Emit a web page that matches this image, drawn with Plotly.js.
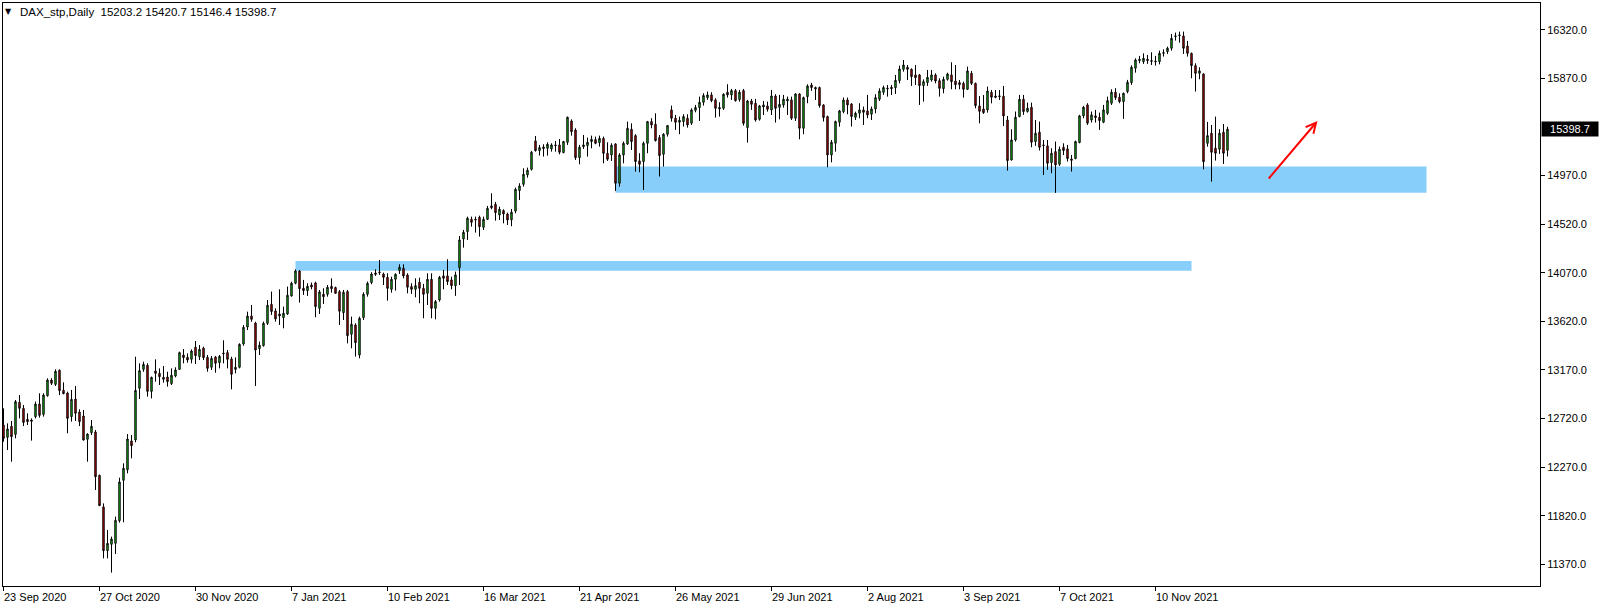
<!DOCTYPE html>
<html>
<head>
<meta charset="utf-8">
<script src="https://cdn.plot.ly/plotly-3.0.1.min.js"></script>
<style>
  html, body { margin: 0; padding: 0; background: #ffffff; }
  #chart { width: 1604px; height: 610px; }
</style>
</head>
<body>
<div id="chart"></div>
<script>
// ---------- data (DAX_stp, Daily) ----------
const firstDay = '2020-09-23';
const closedDays = ['2020-12-24','2020-12-25','2020-12-31','2021-01-01','2021-04-02','2021-04-05','2021-05-24'];

const open = [
12660,12545,12647,12573,12870,12814,12712,12706,12737,12854,12758,12931,13076,13036,13166,12981,12956,12737,12900,12780,
12743,12527,12589,12595,12194,11901,11496,11555,11564,11774,12148,12246,12512,12521,13000,13175,13212,12971,13160,13138,
13101,13104,13043,13113,13175,13308,13286,13268,13379,13292,13372,13286,13194,13289,13237,13326,13330,13271,13175,13194,
13410,13567,13669,13604,13367,13395,13601,13777,13716,13688,13654,13688,13855,13972,14086,13926,13904,13956,13975,13740,
13870,13870,13944,13932,13895,13700,13895,13500,13586,13308,13654,13870,13978,14067,14077,14058,14027,13916,14009,14089,
14111,14049,13941,13916,13981,13925,13879,14009,13740,13817,14040,14040,14003,13950,14117,14382,14450,14564,14564,14583,
14490,14564,14688,14703,14604,14645,14614,14560,14640,14830,14888,14975,15027,15290,15200,15234,15222,15216,15253,15253,
15182,15277,15475,15391,15135,15237,15247,15284,15302,15274,15314,15175,15160,15262,14898,15160,15262,15398,15339,15105,
15099,15268,15469,15444,15321,15166,15352,15577,15500,15463,15469,15500,15454,15574,15599,15648,15691,15716,15670,15586,
15592,15741,15716,15756,15673,15756,15413,15660,15639,15490,15604,15614,15577,15706,15601,15623,15660,15670,15500,15725,
15407,15700,15808,15771,15784,15623,15515,15160,15268,15463,15561,15669,15632,15509,15546,15577,15568,15537,15586,15676,
15740,15771,15787,15783,15848,15953,15972,15953,15901,15901,15802,15830,15854,15901,15848,15774,15860,15901,15845,15830,
15823,15768,15916,15823,15614,15586,15577,15740,15706,15700,15703,15484,15114,15299,15515,15676,15562,15602,15284,15370,
15253,15244,15089,15191,15074,15231,15216,15123,15127,15275,15522,15623,15484,15522,15509,15463,15546,15639,15741,15694,
15654,15747,15830,15963,16034,16024,16046,16034,16030,16024,16101,16117,16148,16256,16265,16262,16169,16101,15987,15916,
15910,15268,15361,15222,15213,15370,15203.2];

const high = [
12814,12675,12697,12891,12937,12845,12768,12721,12876,12953,12953,13092,13092,13175,13175,13055,12968,12984,13021,12805,
12799,12583,12706,12613,12200,11934,11688,11626,11811,12172,12305,12576,12567,13292,13231,13246,13231,13107,13268,13184,
13206,13153,13184,13194,13339,13363,13323,13360,13437,13400,13385,13308,13299,13299,13308,13444,13354,13292,13286,13416,
13585,13709,13771,13616,13432,13617,13818,13895,13740,13916,13756,13941,13987,14101,14095,14003,13972,13978,13987,13910,
13926,13956,14018,13941,13910,13910,13910,13663,13601,13663,13888,13987,14074,14101,14188,14071,14064,14033,14064,14148,
14148,14064,13972,14018,14024,13966,14064,14064,13817,14040,14095,14194,14033,14080,14410,14466,14589,14589,14589,14598,
14589,14688,14805,14725,14681,14657,14626,14660,14858,14898,15037,15043,15197,15336,15253,15259,15277,15268,15290,15308,
15290,15515,15490,15407,15253,15345,15321,15339,15330,15339,15330,15277,15268,15268,15176,15284,15469,15453,15352,15176,
15284,15475,15500,15546,15345,15361,15438,15617,15531,15515,15537,15537,15592,15623,15700,15731,15747,15741,15685,15648,
15731,15815,15771,15771,15762,15771,15670,15679,15679,15623,15660,15654,15762,15722,15716,15716,15700,15700,15731,15731,
15700,15814,15827,15793,15793,15629,15524,15299,15478,15577,15691,15691,15639,15561,15639,15608,15716,15608,15722,15777,
15802,15808,15808,15901,15987,16039,15993,15962,15993,15910,15860,15947,15947,15916,15870,15885,15922,16018,15993,15854,
15839,15978,15938,15830,15706,15715,15793,15762,15762,15762,15799,15521,15398,15562,15716,15716,15645,15645,15484,15469,
15299,15299,15222,15284,15238,15268,15253,15160,15293,15531,15614,15639,15562,15577,15552,15623,15700,15768,15778,15731,
15737,15855,15990,16055,16077,16101,16086,16111,16077,16126,16138,16163,16280,16293,16302,16302,16216,16108,16009,15972,
15916,15466,15438,15515,15398,15447,15420.7];

const low = [
12505,12428,12320,12536,12721,12650,12660,12515,12721,12728,12737,12922,13030,13021,12937,12944,12583,12691,12697,12650,
12515,12320,12567,12058,11910,11425,11425,11293,11465,11756,11759,12212,12351,12500,12900,13153,12922,12906,13061,13030,
13052,13015,13030,13101,13169,13231,13237,13231,13224,13261,13261,13153,13169,13144,13184,13231,13184,12990,13138,13184,
13394,13539,13616,13021,13308,13385,13586,13679,13617,13586,13555,13679,13848,13963,13793,13864,13855,13916,13657,13688,
13780,13848,13885,13873,13586,13632,13416,13370,13293,13277,13632,13848,13963,14040,14049,13956,13811,13885,13904,14058,
14018,13879,13873,13842,13787,13648,13771,13648,13638,13802,13916,13956,13916,13855,13956,14302,14373,14496,14441,14404,
14465,14558,14657,14552,14558,14527,14512,14500,14620,14743,14867,14950,15015,15191,15154,15145,15154,15191,15191,15166,
15176,15253,15339,15114,15074,15216,15145,15222,15259,15237,15083,15105,15105,14827,14867,15083,15253,15206,15006,15000,
14836,15176,15407,15284,14960,15052,15330,15469,15392,15352,15423,15413,15438,15555,15475,15617,15670,15648,15506,15515,
15577,15691,15670,15654,15654,15432,15274,15577,15469,15478,15530,15561,15530,15460,15490,15598,15530,15484,15475,15305,
15352,15639,15753,15669,15598,15469,15046,15092,15191,15422,15546,15537,15423,15484,15500,15438,15500,15484,15546,15660,
15716,15700,15715,15725,15823,15931,15854,15799,15808,15623,15654,15799,15839,15823,15700,15731,15848,15768,15768,15768,
15691,15762,15808,15592,15453,15540,15552,15638,15685,15669,15428,15015,15108,15284,15509,15531,15552,15231,15244,15201,
14975,15022,14991,14809,15059,15160,15099,15006,15120,15268,15500,15438,15460,15460,15392,15454,15531,15623,15670,15639,
15494,15731,15809,15922,16009,16003,16003,15993,15987,15999,16071,16095,16126,16219,16200,16095,16071,15870,15747,15861,
15027,15237,14913,15108,15170,15077,15146.4];

const close = [
12536,12623,12552,12876,12814,12684,12691,12694,12854,12749,12937,13076,13046,13157,12978,12950,12721,12897,12768,12691,
12521,12576,12647,12181,11913,11496,11564,11604,11777,12132,12259,12530,12468,12980,13163,13221,12971,13101,13138,13107,
13083,13061,13120,13169,13330,13283,13262,13345,13302,13360,13283,13184,13277,13231,13295,13320,13268,13129,13194,13406,
13564,13669,13638,13354,13398,13601,13768,13710,13642,13669,13694,13861,13972,14086,13922,13904,13944,13938,13756,13892,
13848,13935,13922,13879,13713,13888,13487,13592,13422,13648,13870,13972,14058,14055,14071,14027,13925,14009,14055,14120,
14040,13935,13916,13950,13925,13870,14009,13740,13802,14027,14018,13987,13950,14049,14373,14444,14574,14536,14558,14496,
14564,14666,14672,14626,14657,14614,14558,14630,14842,14873,14981,15018,15185,15200,15228,15219,15259,15253,15247,15185,
15284,15509,15376,15135,15231,15253,15277,15305,15268,15314,15175,15120,15250,14898,15160,15268,15407,15284,15099,15074,
15268,15469,15438,15293,15154,15352,15432,15500,15463,15481,15515,15438,15577,15599,15648,15710,15716,15663,15592,15599,
15722,15716,15756,15663,15741,15453,15660,15629,15484,15614,15623,15583,15706,15592,15629,15676,15676,15500,15725,15407,
15691,15799,15784,15784,15617,15506,15160,15277,15469,15568,15669,15623,15515,15546,15577,15555,15531,15586,15691,15753,
15784,15777,15774,15851,15956,15993,15953,15885,15876,15802,15839,15879,15901,15845,15777,15860,15910,15839,15811,15811,
15768,15938,15823,15617,15564,15552,15752,15694,15694,15706,15521,15108,15299,15509,15676,15562,15593,15278,15361,15231,
15247,15083,15176,15068,15213,15201,15127,15111,15284,15522,15602,15454,15531,15506,15478,15577,15663,15741,15691,15654,
15731,15833,15972,16040,16046,16055,16034,16027,16024,16101,16107,16148,16240,16262,16271,16148,16101,15987,15916,15938,
15098,15339,15185,15176,15361,15176,15398.7];

const dateTicks = ['2020-09-23','2020-10-27','2020-11-30','2021-01-07','2021-02-10','2021-03-16','2021-04-21',
                   '2021-05-26','2021-06-29','2021-08-02','2021-09-03','2021-10-07','2021-11-10'];
const dateTickText = ['23 Sep 2020','27 Oct 2020','30 Nov 2020','7 Jan 2021','10 Feb 2021','16 Mar 2021','21 Apr 2021',
                      '26 May 2021','29 Jun 2021','2 Aug 2021','3 Sep 2021','7 Oct 2021','10 Nov 2021'];
const priceTicks = [11370,11820,12270,12720,13170,13620,14070,14520,14970,15870,16320];

const headerText = 'DAX_stp,Daily  15203.2 15420.7 15146.4 15398.7';
const lastPrice = 15398.7;

// support zones (bar index from / to, price low / high)
const zoneUpper = {from: 153, to: 355.75, lo: 14811, hi: 15052};
const zoneLower = {from: 73, to: 297, lo: 14089, hi: 14178};
// arrow (bar index, price) tail -> head
const arrowTail = {bar: 316, price: 14928};
const arrowHead = {bar: 328.5, price: 15475};

// ---------- trading-day categories ----------
function tradingDays(start, count, skip) {
  const out = [];
  const d = new Date(start + 'T00:00:00Z');
  while (out.length < count) {
    const wd = d.getUTCDay();
    const s = d.toISOString().slice(0, 10);
    if (wd !== 0 && wd !== 6 && skip.indexOf(s) < 0) out.push(s);
    d.setUTCDate(d.getUTCDate() + 1);
  }
  return out;
}
const dates = tradingDays(firstDay, close.length, closedDays);

// ---------- chart ----------
const FONT = 'Liberation Sans, Arial, sans-serif';

const trace = {
  type: 'candlestick',
  x: dates,
  open: open, high: high, low: low, close: close,
  increasing: {line: {color: '#000000', width: 1}, fillcolor: '#1ee61e'},
  decreasing: {line: {color: '#000000', width: 1}, fillcolor: '#f00000'},
  whiskerwidth: 0,
  hoverinfo: 'skip',
  showlegend: false
};

const annotations = [];
dateTicks.forEach((d, k) => {
  annotations.push({
    x: d, xref: 'x', y: 0, yref: 'paper',
    xanchor: 'left', yanchor: 'top', yshift: -3, xshift: -2,
    text: dateTickText[k], showarrow: false,
    font: {family: FONT, size: 11, color: '#000000'}
  });
});
annotations.push({
  x: 1, xref: 'paper', y: lastPrice, yref: 'y',
  xanchor: 'left', yanchor: 'middle', xshift: 1,
  text: lastPrice.toFixed(1), showarrow: false,
  bgcolor: '#000000', borderpad: 1, width: 54, align: 'center',
  font: {family: FONT, size: 11, color: '#ffffff'}
});
annotations.push({
  x: 0, xref: 'paper', y: 1, yref: 'paper',
  xanchor: 'left', yanchor: 'top', xshift: 0, yshift: -2,
  text: '▼', showarrow: false,
  font: {family: 'DejaVu Sans, sans-serif', size: 8, color: '#000000'}
});
annotations.push({
  x: 0, xref: 'paper', y: 1, yref: 'paper',
  xanchor: 'left', yanchor: 'top', xshift: 15, yshift: -1,
  text: headerText, showarrow: false,
  font: {family: FONT, size: 11.5, color: '#000000'}
});
annotations.push({
  x: arrowHead.bar, y: arrowHead.price, xref: 'x', yref: 'y',
  ax: arrowTail.bar, ay: arrowTail.price, axref: 'x', ayref: 'y',
  text: '', showarrow: true, arrowcolor: '#ff0000', arrowwidth: 2,
  arrowhead: 5, arrowsize: 1
});

const layout = {
  width: 1604, height: 610,
  margin: {l: 3, r: 64, t: 3, b: 24, pad: 0},
  paper_bgcolor: '#ffffff', plot_bgcolor: '#ffffff',
  showlegend: false,
  boxgap: 0.5,
  xaxis: {
    type: 'category',
    range: [-0.125, 384.125],
    rangeslider: {visible: false},
    showgrid: false, zeroline: false,
    showline: true, mirror: true, linecolor: '#000000', linewidth: 1,
    ticks: 'outside', ticklen: 4, tickcolor: '#000000',
    tickvals: dateTicks, showticklabels: false,
    automargin: false, fixedrange: true
  },
  yaxis: {
    side: 'right',
    range: [11169, 16567],
    showgrid: false, zeroline: false,
    showline: true, mirror: true, linecolor: '#000000', linewidth: 1,
    ticks: 'outside', ticklen: 4, tickcolor: '#000000',
    tickvals: priceTicks,
    ticktext: priceTicks.map(v => v.toFixed(1)),
    tickfont: {family: FONT, size: 11, color: '#000000'},
    automargin: false, fixedrange: true
  },
  shapes: [
    {type: 'rect', xref: 'x', yref: 'y', layer: 'below',
     x0: zoneUpper.from, x1: zoneUpper.to, y0: zoneUpper.lo, y1: zoneUpper.hi,
     fillcolor: '#87cefa', line: {width: 0}},
    {type: 'rect', xref: 'x', yref: 'y', layer: 'below',
     x0: zoneLower.from, x1: zoneLower.to, y0: zoneLower.lo, y1: zoneLower.hi,
     fillcolor: '#87cefa', line: {width: 0}}
  ],
  annotations: annotations
};

Plotly.newPlot('chart', [trace], layout, {displayModeBar: false, staticPlot: true});
</script>
</body>
</html>
